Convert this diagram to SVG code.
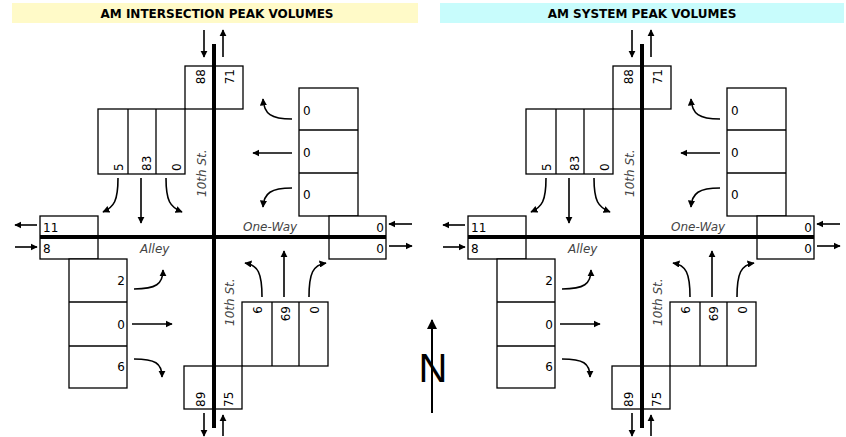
<svg xmlns="http://www.w3.org/2000/svg" xmlns:xlink="http://www.w3.org/1999/xlink" width="846" height="437" viewBox="0 0 846 437">
<defs>
<style>
.bx{fill:#fff;stroke:#000;stroke-width:1.3}
.ln{stroke:#000;stroke-width:1.3;fill:none}
.rd{stroke:#000;stroke-width:4;fill:none}
.ar{stroke:#000;stroke-width:1.6;fill:none;marker-end:url(#ah)}
.num{font-family:"DejaVu Sans",sans-serif;font-size:12px;fill:#000}
.st{font-family:"DejaVu Sans",sans-serif;font-size:12px;font-style:italic;fill:#444}
.hd{font-family:"DejaVu Sans",sans-serif;font-size:12px;font-weight:bold;fill:#000;text-anchor:middle}
</style>
<marker id="ah" viewBox="0 0 10 10" refX="9" refY="5" markerWidth="4.5" markerHeight="4.5" orient="auto">
<path d="M0,0 L10,5 L0,10 z" fill="#000"/>
</marker>
<marker id="ahN" viewBox="0 0 10 10" refX="9" refY="5" markerWidth="5" markerHeight="5" orient="auto">
<path d="M0,0 L10,5 L0,10 z" fill="#000"/>
</marker>
</defs>
<rect width="846" height="437" fill="#fff"/>

<g id="header-left">
<rect x="12" y="3" width="406" height="20" fill="#FFFAC8"/>
<text class="hd" x="217" y="17.5">AM INTERSECTION PEAK VOLUMES</text>
</g>
<g id="header-right">
<rect x="440" y="3" width="404" height="20" fill="#C8FCFC"/>
<text class="hd" x="642" y="17.5">AM SYSTEM PEAK VOLUMES</text>
</g>

<g id="diagram-left">
<g id="L-north-approach">
<rect class="bx" x="185" y="66" width="58" height="43"/>
<text class="num" text-anchor="end" transform="translate(205,69) rotate(-90)">88</text>
<text class="num" text-anchor="end" transform="translate(234,69) rotate(-90)">71</text>
</g>
<g id="L-southbound">
<rect class="bx" x="98" y="109" width="87" height="65"/>
<line class="ln" x1="128" y1="109" x2="128" y2="174"/>
<line class="ln" x1="156" y1="109" x2="156" y2="174"/>
<text class="num" transform="translate(123,171) rotate(-90)">5</text>
<text class="num" transform="translate(151,171) rotate(-90)">83</text>
<text class="num" transform="translate(181,171) rotate(-90)">0</text>
</g>
<g id="L-westbound">
<rect class="bx" x="299" y="88" width="59" height="128"/>
<line class="ln" x1="299" y1="130" x2="358" y2="130"/>
<line class="ln" x1="299" y1="173" x2="358" y2="173"/>
<text class="num" x="303" y="115">0</text>
<text class="num" x="303" y="157">0</text>
<text class="num" x="303" y="199">0</text>
</g>
<g id="L-east-approach">
<rect class="bx" x="329" y="216" width="57" height="43"/>
<text class="num" text-anchor="end" x="384" y="232">0</text>
<text class="num" text-anchor="end" x="384" y="253">0</text>
</g>
<g id="L-west-approach">
<rect class="bx" x="40" y="216" width="58" height="43"/>
<text class="num" x="43" y="232">11</text>
<text class="num" x="43" y="253">8</text>
</g>
<g id="L-eastbound">
<rect class="bx" x="69" y="259" width="58" height="129"/>
<line class="ln" x1="69" y1="302" x2="127" y2="302"/>
<line class="ln" x1="69" y1="346" x2="127" y2="346"/>
<text class="num" text-anchor="end" x="125" y="285">2</text>
<text class="num" text-anchor="end" x="125" y="329">0</text>
<text class="num" text-anchor="end" x="125" y="371">6</text>
</g>
<g id="L-northbound">
<rect class="bx" x="242" y="302" width="86" height="64"/>
<line class="ln" x1="272" y1="302" x2="272" y2="366"/>
<line class="ln" x1="299" y1="302" x2="299" y2="366"/>
<text class="num" text-anchor="end" transform="translate(262,306) rotate(-90)">6</text>
<text class="num" text-anchor="end" transform="translate(290,306) rotate(-90)">69</text>
<text class="num" text-anchor="end" transform="translate(319,306) rotate(-90)">0</text>
</g>
<g id="L-south-approach">
<rect class="bx" x="184" y="366" width="58" height="43"/>
<text class="num" transform="translate(205,407) rotate(-90)">89</text>
<text class="num" transform="translate(233,407) rotate(-90)">75</text>
</g>
<g id="L-roads">
<line class="rd" x1="214" y1="44" x2="214" y2="428"/>
<line class="rd" x1="40" y1="237" x2="386" y2="237"/>
<text class="st" transform="translate(206,197) rotate(-90)">10th St.</text>
<text class="st" transform="translate(234,326) rotate(-90)">10th St.</text>
<text class="st" x="243" y="231">One-Way</text>
<text class="st" x="140" y="253">Alley</text>
</g>
<g id="L-connectors">
<path class="ar" d="M204,30 L204,57"/>
<path class="ar" d="M223,57 L223,30"/>
<path class="ar" d="M204,413 L204,436"/>
<path class="ar" d="M223,436 L223,415"/>
<path class="ar" d="M37,225 L15,225"/>
<path class="ar" d="M15,247 L37,247"/>
<path class="ar" d="M412,224 L389,224"/>
<path class="ar" d="M389,246 L412,246"/>
<path class="ar" d="M118,178 C118,201 114,207 103,212"/>
<path class="ar" d="M141,178 L141,223"/>
<path class="ar" d="M166,178 C166,201 170,207 182,212"/>
<path class="ar" d="M292,119 C271,119 264,114 263,99"/>
<path class="ar" d="M292,153 L253,153"/>
<path class="ar" d="M292,188 C271,188 264,193 263,207"/>
<path class="ar" d="M134,289 C156,289 163,284 163,270"/>
<path class="ar" d="M132,324 L172,324"/>
<path class="ar" d="M134,359 C155,359 162,363 162,377"/>
<path class="ar" d="M262,297 C262,273 258,265 245,263"/>
<path class="ar" d="M284,297 L284,251"/>
<path class="ar" d="M309,297 C309,273 313,265 326,263"/>
</g>
</g>

<g id="diagram-right" transform="translate(428,0)">
<g id="R-north-approach">
<rect class="bx" x="185" y="66" width="58" height="43"/>
<text class="num" text-anchor="end" transform="translate(205,69) rotate(-90)">88</text>
<text class="num" text-anchor="end" transform="translate(234,69) rotate(-90)">71</text>
</g>
<g id="R-southbound">
<rect class="bx" x="98" y="109" width="87" height="65"/>
<line class="ln" x1="128" y1="109" x2="128" y2="174"/>
<line class="ln" x1="156" y1="109" x2="156" y2="174"/>
<text class="num" transform="translate(123,171) rotate(-90)">5</text>
<text class="num" transform="translate(151,171) rotate(-90)">83</text>
<text class="num" transform="translate(181,171) rotate(-90)">0</text>
</g>
<g id="R-westbound">
<rect class="bx" x="299" y="88" width="59" height="128"/>
<line class="ln" x1="299" y1="130" x2="358" y2="130"/>
<line class="ln" x1="299" y1="173" x2="358" y2="173"/>
<text class="num" x="303" y="115">0</text>
<text class="num" x="303" y="157">0</text>
<text class="num" x="303" y="199">0</text>
</g>
<g id="R-east-approach">
<rect class="bx" x="329" y="216" width="57" height="43"/>
<text class="num" text-anchor="end" x="384" y="232">0</text>
<text class="num" text-anchor="end" x="384" y="253">0</text>
</g>
<g id="R-west-approach">
<rect class="bx" x="40" y="216" width="58" height="43"/>
<text class="num" x="43" y="232">11</text>
<text class="num" x="43" y="253">8</text>
</g>
<g id="R-eastbound">
<rect class="bx" x="69" y="259" width="58" height="129"/>
<line class="ln" x1="69" y1="302" x2="127" y2="302"/>
<line class="ln" x1="69" y1="346" x2="127" y2="346"/>
<text class="num" text-anchor="end" x="125" y="285">2</text>
<text class="num" text-anchor="end" x="125" y="329">0</text>
<text class="num" text-anchor="end" x="125" y="371">6</text>
</g>
<g id="R-northbound">
<rect class="bx" x="242" y="302" width="86" height="64"/>
<line class="ln" x1="272" y1="302" x2="272" y2="366"/>
<line class="ln" x1="299" y1="302" x2="299" y2="366"/>
<text class="num" text-anchor="end" transform="translate(262,306) rotate(-90)">6</text>
<text class="num" text-anchor="end" transform="translate(290,306) rotate(-90)">69</text>
<text class="num" text-anchor="end" transform="translate(319,306) rotate(-90)">0</text>
</g>
<g id="R-south-approach">
<rect class="bx" x="184" y="366" width="58" height="43"/>
<text class="num" transform="translate(205,407) rotate(-90)">89</text>
<text class="num" transform="translate(233,407) rotate(-90)">75</text>
</g>
<g id="R-roads">
<line class="rd" x1="214" y1="44" x2="214" y2="428"/>
<line class="rd" x1="40" y1="237" x2="386" y2="237"/>
<text class="st" transform="translate(206,197) rotate(-90)">10th St.</text>
<text class="st" transform="translate(234,326) rotate(-90)">10th St.</text>
<text class="st" x="243" y="231">One-Way</text>
<text class="st" x="140" y="253">Alley</text>
</g>
<g id="R-connectors">
<path class="ar" d="M204,30 L204,57"/>
<path class="ar" d="M223,57 L223,30"/>
<path class="ar" d="M204,413 L204,436"/>
<path class="ar" d="M223,436 L223,415"/>
<path class="ar" d="M37,225 L15,225"/>
<path class="ar" d="M15,247 L37,247"/>
<path class="ar" d="M412,224 L389,224"/>
<path class="ar" d="M389,246 L412,246"/>
<path class="ar" d="M118,178 C118,201 114,207 103,212"/>
<path class="ar" d="M141,178 L141,223"/>
<path class="ar" d="M166,178 C166,201 170,207 182,212"/>
<path class="ar" d="M292,119 C271,119 264,114 263,99"/>
<path class="ar" d="M292,153 L253,153"/>
<path class="ar" d="M292,188 C271,188 264,193 263,207"/>
<path class="ar" d="M134,289 C156,289 163,284 163,270"/>
<path class="ar" d="M132,324 L172,324"/>
<path class="ar" d="M134,359 C155,359 162,363 162,377"/>
<path class="ar" d="M262,297 C262,273 258,265 245,263"/>
<path class="ar" d="M284,297 L284,251"/>
<path class="ar" d="M309,297 C309,273 313,265 326,263"/>
</g>
</g>

<g id="north-arrow">
<line x1="432" y1="413" x2="432" y2="320" stroke="#000" stroke-width="2" marker-end="url(#ahN)"/>
<text x="433" y="382" font-family="'Liberation Sans',sans-serif" font-size="40" text-anchor="middle" fill="#000">N</text>
</g>
</svg>
